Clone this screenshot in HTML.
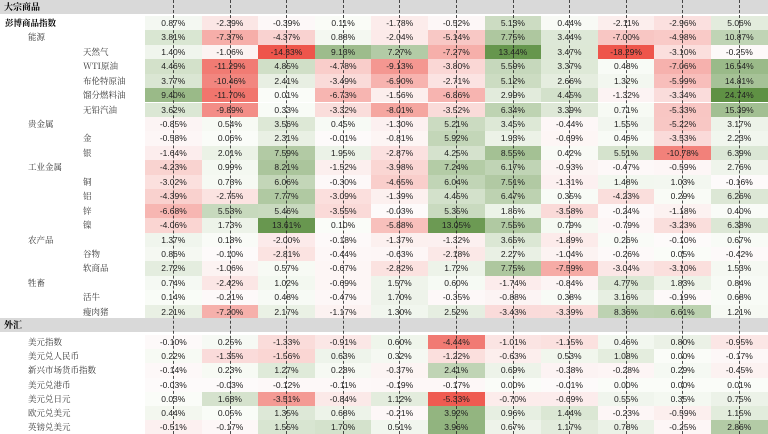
<!DOCTYPE html>
<html><head><meta charset="utf-8">
<style>
body{margin:0;background:#fff;width:768px;height:434px;overflow:hidden;position:relative;font-family:"Liberation Sans","Noto Sans CJK SC",sans-serif;}
.band{position:absolute;left:0;width:768px;background:#d9d9d9;font-size:9px;font-weight:bold;font-family:"Noto Serif CJK SC","Liberation Serif",serif;}
.lbl{position:absolute;font-size:8.5px;color:#333;white-space:nowrap;font-family:"Noto Serif CJK SC","Liberation Serif",serif;}
.cell{position:absolute;font-size:8.5px;color:#222;text-align:center;box-sizing:border-box;}
.dash{position:absolute;width:0;border-left:1px dashed #222;top:0;height:434px;opacity:.8}
</style></head><body>
<div id="root"></div>
<script>
const commodityLabels=["彭博商品指数","能源","天然气","WTI原油","布伦特原油","馏分燃料油","无铅汽油","贵金属","金","银","工业金属","铜","铝","锌","镍","农产品","谷物","软商品","牲畜","活牛","瘦肉猪"];
const commodityLevels=[0,1,2,2,2,2,2,1,2,2,1,2,2,2,2,1,2,2,1,2,2];
const commodityValues=[
[0.87,-2.39,-0.39,0.11,-1.78,-0.52,5.13,0.44,-2.11,-2.96,5.06],
[3.81,-7.37,-4.37,0.88,-2.04,-5.14,7.75,3.44,-7.00,-4.98,10.87],
[1.40,-1.06,-14.33,9.13,7.27,-7.27,13.44,3.47,-18.29,-3.10,-0.25],
[4.46,-11.29,4.85,-4.78,-9.13,-3.80,5.59,3.37,0.48,-7.06,16.54],
[3.77,-10.46,2.41,-3.49,-6.90,-2.71,5.12,2.66,1.32,-5.99,14.81],
[9.40,-11.70,0.01,-6.73,-1.56,-6.86,2.99,4.45,-1.32,-3.34,24.74],
[3.62,-9.89,0.33,-3.32,-8.01,-3.52,6.34,3.39,0.71,-5.33,15.39],
[-0.85,0.54,3.56,0.45,-1.30,5.21,3.45,-0.44,1.55,-5.22,3.17],
[-0.58,0.06,2.31,-0.01,-0.81,5.92,1.93,-0.69,0.46,-3.53,2.23],
[-1.64,2.01,7.59,1.95,-2.87,4.25,8.55,0.42,5.51,-10.78,6.39],
[-4.23,0.99,8.21,-1.52,-3.98,7.24,6.17,-0.93,-0.47,-0.59,2.76],
[-3.02,0.73,6.06,-0.30,-4.65,6.04,7.51,-1.31,1.48,1.03,-0.16],
[-4.39,-2.75,7.77,-3.09,-1.39,4.45,6.47,0.35,-4.23,0.29,6.26],
[-6.68,5.53,5.46,-3.55,-0.03,5.35,1.86,-3.58,-0.24,-1.18,0.40],
[-4.06,1.73,13.61,0.10,-5.88,13.05,7.55,0.79,-0.79,-3.23,6.38],
[1.37,0.18,-2.00,-0.18,-1.37,-1.32,3.65,-1.89,0.26,-0.10,0.67],
[0.86,-0.10,-2.81,-0.44,-0.63,-2.18,2.27,-1.04,-0.26,0.05,-0.42],
[2.72,-1.06,0.57,-0.67,-2.82,1.72,7.75,-7.59,-3.04,-3.10,1.53],
[0.74,-2.42,1.02,-0.69,1.57,0.60,-1.74,-0.84,4.77,1.83,0.84],
[0.14,-0.21,0.48,-0.47,1.70,-0.35,-0.88,0.38,3.16,-0.19,0.68],
[2.21,-7.20,2.17,-1.17,1.30,2.52,-3.43,-3.39,8.36,6.61,1.21]];
const fxLabels=["美元指数","美元兑人民币","新兴市场货币指数","美元兑港币","美元兑日元","欧元兑美元","英镑兑美元"];
const fxValues=[
[-0.10,0.25,-1.33,-0.91,0.60,-4.44,-1.01,-1.15,0.46,0.80,-0.95],
[0.22,-1.35,-1.56,0.63,0.32,-1.22,-0.63,0.53,1.08,0.00,-0.17],
[-0.14,0.23,1.27,0.28,-0.37,2.41,0.69,-0.38,-0.28,0.29,-0.45],
[-0.03,-0.03,-0.12,-0.11,-0.19,-0.17,0.00,-0.01,0.00,0.00,0.01],
[0.03,1.68,-3.51,-0.84,1.12,-5.33,-0.70,-0.69,0.55,0.35,0.75],
[0.44,0.05,1.35,0.68,-0.21,3.92,0.96,1.44,-0.23,-0.59,1.15],
[-0.51,-0.17,1.55,1.70,0.51,3.96,0.67,1.17,0.78,-0.25,2.86]];

const root=document.getElementById('root');
const X0=145,CW=56.6;
function colX(i){return X0+i*CW;}
function color(v,m){
  let t=Math.min(Math.abs(v)/m,1);t=Math.pow(t,1.2);
  if(v>=0){return `rgb(${Math.round(250-t*155)},${Math.round(252-t*107)},${Math.round(248-t*180)})`;}
  return `rgb(${Math.round(253-t*15)},${Math.round(250-t*165)},${Math.round(250-t*175)})`;
}
function colMax(vals,j){let m=0;vals.forEach(r=>m=Math.max(m,Math.abs(r[j])));return m||1;}
function band(txt,y,h){
  const d=document.createElement('div');d.className='band';
  
  
  d.style.top=y+'px';d.style.height=h+'px';d.style.lineHeight=h+'px';d.style.paddingLeft='4px';d.textContent=txt;root.appendChild(d);
}
function row(label,level,vals,y,h,maxes){
  const l=document.createElement('div');l.className='lbl';
  
  
  l.style.left=[5,28,83][level]+'px';l.style.top=y+'px';l.style.lineHeight=h+'px';
  if(level===0){l.style.fontWeight='bold';l.style.color='#000';}
  l.textContent=label;root.appendChild(l);
  vals.forEach((v,j)=>{
    const c=document.createElement('div');c.className='cell';
    
    
    c.style.left=colX(j)+'px';c.style.width=CW+'px';c.style.top=y+'px';c.style.height=h+'px';c.style.lineHeight=h+'px';
    c.style.background=color(v,maxes[j]);
    c.textContent=v.toFixed(2)+'%';root.appendChild(c);
  });
}
band('大宗商品',0,14);
const cm=commodityValues[0].map((_,j)=>Math.max(colMax(commodityValues,j),14));
commodityLabels.forEach((lab,i)=>{row(lab,commodityLevels[i],commodityValues[i],15.8+i*14.45,14.45,cm);});
band('外汇',318,14);
const fm=fxValues[0].map(()=>5.5);
fxLabels.forEach((lab,i)=>{row(lab,1,fxValues[i],335+i*14.2,14.2,fm);});
for(let j=0;j<11;j++){
  const d=document.createElement('div');d.className='dash';
  
  
  d.style.left=(colX(j)+28)+'px';root.appendChild(d);
}
</script>
</body></html>
